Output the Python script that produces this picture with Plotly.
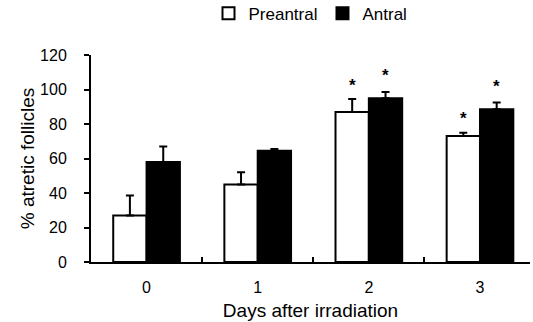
import plotly.graph_objects as go

days = ["0", "1", "2", "3"]
preantral = [27, 45, 87, 73]
preantral_err = [11.5, 7, 7.5, 2]
antral = [58, 64.5, 95, 88.5]
antral_err = [9, 1, 3.5, 4]
pre_sig = [False, False, True, True]
ant_sig = [False, False, True, True]
y_ticks = [0, 20, 40, 60, 80, 100, 120]

FONT = "Arial, Liberation Sans, sans-serif"
BARGAP = 0.4
half = (1 - BARGAP) / 4  # centre offset of each bar in a group of two

fig = go.Figure()
fig.add_trace(go.Bar(
    name="Preantral", x=days, y=preantral,
    marker=dict(color="white", line=dict(color="black", width=2)),
    error_y=dict(type="data", array=preantral_err, arrayminus=[0]*4, symmetric=False,
                 color="black", thickness=2, width=4),
))
fig.add_trace(go.Bar(
    name="Antral", x=days, y=antral,
    marker=dict(color="black", line=dict(color="black", width=2)),
    error_y=dict(type="data", array=antral_err, arrayminus=[0]*4, symmetric=False,
                 color="black", thickness=2, width=4),
))

annotations = []
for i in range(len(days)):
    if pre_sig[i]:
        annotations.append(dict(x=i - half, y=preantral[i] + preantral_err[i] + 8,
                                text="<b>*</b>", showarrow=False,
                                font=dict(size=17, color="black", family=FONT)))
    if ant_sig[i]:
        annotations.append(dict(x=i + half, y=antral[i] + antral_err[i] + 9.5,
                                text="<b>*</b>", showarrow=False,
                                font=dict(size=17, color="black", family=FONT)))

fig.update_layout(
    width=533, height=322,
    margin=dict(l=91, r=3, t=55, b=60, autoexpand=False),
    paper_bgcolor="white", plot_bgcolor="white",
    barmode="group", bargap=BARGAP, bargroupgap=0,
    font=dict(family=FONT, color="black", size=16),
    legend=dict(orientation="h", x=0.5, xanchor="center", y=1.2, yanchor="middle",
                font=dict(size=17), itemwidth=30, traceorder="normal"),
    annotations=annotations,
    xaxis=dict(
        type="category", range=[-0.5, 3.45],
        showline=True, linecolor="black", linewidth=2,
        ticks="inside", tickson="boundaries", ticklen=5, tickwidth=2, tickcolor="black",
        showgrid=False, zeroline=False, ticklabelstandoff=10,
        tickfont=dict(size=16),
        title=dict(text="Days after irradiation", font=dict(size=19), standoff=8),
    ),
    yaxis=dict(
        range=[0, 120], tickvals=y_ticks,
        showline=True, linecolor="black", linewidth=2,
        ticks="outside", ticklen=5, tickwidth=2, tickcolor="black",
        showgrid=False, zeroline=False, ticklabelstandoff=14,
        tickfont=dict(size=16),
        title=dict(text="% atretic follicles", font=dict(size=19), standoff=0),
    ),
)

fig.write_html("out.html", config={"displayModeBar": False},
               post_script="document.body.style.margin='0';")
